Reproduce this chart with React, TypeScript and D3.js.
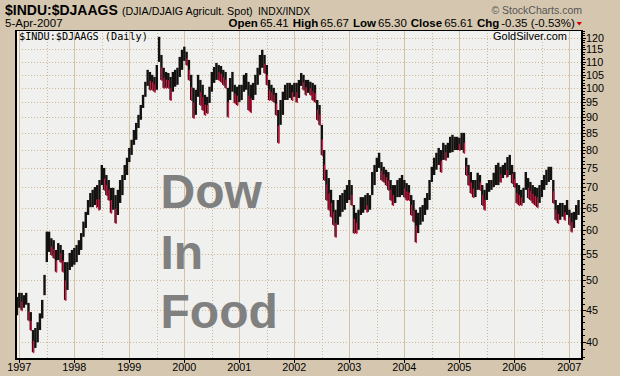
import React from 'react';
import * as d3 from 'd3';

// Half-month periods, first one is mid-December 1996
const firstPeriod = 1996 + 23 / 24;
const periodsPerYear = 24;

const hi = [
  47.1,
  47.8, 47.8, 47.4, 47.8, 46.1, 44.6, 41.8, 42.1, 43.0, 44.4, 46.6, 51.0,
  59.6, 59.6, 58.2, 57.8, 55.8, 57.2, 56.8, 55.8, 53.4, 53.4, 55.2, 55.8,
  56.2, 56.8, 57.8, 59.3, 61.8, 64.0, 66.8, 68.5, 69.3, 70.0, 70.5, 71.8,
  75.8, 75.0, 73.1, 71.8, 69.8, 69.8, 68.0, 69.3, 71.8, 73.1, 75.8, 77.8,
  80.6, 83.0, 86.0, 88.2, 90.8, 94.1, 97.6, 102.3, 106.8, 106.0, 104.9, 104.1,
  108.7, 120.3, 112.7, 107.6, 106.0, 105.6, 104.1, 106.0, 106.8, 107.6, 111.9, 114.8,
  116.1, 114.0, 110.7, 104.9, 100.1, 99.4, 104.9, 103.0, 101.2, 97.6, 96.9, 100.5,
  106.0, 107.9, 109.5, 108.7, 108.3, 106.8, 106.0, 100.1, 103.7, 106.0, 101.2, 100.5,
  101.2, 101.2, 104.9, 105.6, 102.3, 101.2, 101.9, 104.9, 107.6, 112.7, 114.8, 112.7,
  108.7, 103.0, 101.2, 100.1, 98.3, 92.4, 95.8, 98.7, 101.2, 101.9, 101.9, 101.2,
  101.9, 101.9, 103.0, 105.6, 104.9, 103.0, 103.0, 102.3, 101.9, 101.2, 95.8, 94.1,
  87.6, 80.0, 74.5, 72.3, 69.3, 66.8, 64.5, 66.8, 68.0, 68.5, 69.3, 70.5,
  71.8, 70.5, 65.6, 63.8, 64.5, 67.5, 67.5, 68.0, 68.5, 68.0, 73.9, 75.8,
  77.8, 79.2, 76.6, 75.3, 74.5, 73.9, 71.8, 70.5, 70.5, 71.8, 72.3, 73.1,
  71.8, 71.0, 70.5, 68.0, 66.8, 64.5, 63.8, 65.1, 65.6, 67.3, 68.5, 71.8,
  75.3, 77.8, 79.2, 80.6, 80.0, 82.1, 81.5, 82.1, 83.9, 84.5, 83.9, 83.9,
  83.6, 85.1, 85.1, 77.8, 75.8, 73.9, 71.8, 71.8, 73.7, 73.1, 70.5, 69.3,
  71.0, 71.8, 71.8, 73.7, 75.8, 76.4, 75.3, 75.8, 76.4, 78.0, 78.6, 75.8,
  73.9, 71.0, 70.5, 69.3, 69.8, 73.9, 72.3, 71.3, 70.5, 70.0, 69.8, 70.5,
  71.8, 73.1, 74.5, 75.3, 75.3, 71.8, 66.8, 65.6, 66.1, 66.1, 65.6, 66.8,
  64.5, 63.8, 64.0, 65.6, 66.8,
];

const lo = [
  44.1,
  45.3, 44.9, 45.3, 45.8, 43.3, 41.8, 38.6, 39.2, 40.0, 41.8, 43.6, 47.4,
  53.4, 55.4, 54.8, 54.2, 51.6, 53.8, 53.4, 51.6, 46.6, 48.3, 51.9, 52.5,
  52.9, 53.4, 54.8, 55.8, 58.5, 60.4, 63.3, 65.1, 65.1, 65.6, 65.1, 64.5,
  70.5, 69.3, 68.0, 66.8, 63.8, 64.5, 61.5, 63.3, 66.1, 68.0, 71.8, 73.1,
  76.6, 78.6, 81.5, 83.0, 86.6, 89.2, 93.1, 96.9, 100.8, 99.4, 99.4, 98.7,
  99.4, 109.9, 103.0, 100.1, 100.1, 100.1, 95.8, 98.7, 100.5, 101.2, 104.1, 106.8,
  110.3, 108.7, 103.0, 95.8, 89.8, 90.8, 96.9, 94.1, 92.4, 90.8, 91.4, 94.8,
  98.7, 101.9, 103.0, 103.0, 102.3, 101.2, 100.1, 90.2, 95.8, 98.7, 94.8, 94.1,
  95.1, 95.8, 98.7, 99.4, 92.4, 91.7, 95.8, 97.6, 101.2, 104.9, 107.6, 105.6,
  101.2, 95.8, 95.8, 95.1, 90.8, 82.1, 87.6, 90.8, 95.8, 95.8, 96.5, 95.8,
  96.9, 95.1, 96.5, 100.8, 99.4, 97.6, 98.3, 97.6, 95.8, 95.1, 89.2, 87.6,
  78.6, 71.8, 66.8, 64.5, 62.9, 61.1, 58.5, 61.1, 62.9, 64.0, 64.5, 66.1,
  66.8, 65.6, 59.3, 59.3, 60.0, 63.3, 63.8, 64.5, 64.0, 64.5, 68.0, 70.5,
  73.9, 75.0, 71.8, 71.3, 70.5, 69.3, 66.8, 65.6, 66.1, 67.5, 67.5, 68.0,
  67.5, 66.8, 66.8, 63.3, 61.8, 57.4, 59.3, 61.1, 61.8, 63.3, 64.5, 66.8,
  71.3, 73.1, 74.5, 75.8, 73.9, 77.2, 77.2, 77.8, 79.2, 79.4, 80.0, 80.0,
  80.0, 80.0, 79.2, 73.1, 70.5, 68.5, 67.5, 67.5, 69.3, 69.3, 65.6, 64.5,
  66.8, 68.8, 69.3, 70.0, 70.5, 70.5, 71.3, 72.3, 73.1, 72.6, 73.1, 71.0,
  70.0, 66.1, 65.6, 65.6, 66.1, 69.3, 67.3, 66.8, 66.1, 65.6, 65.1, 66.1,
  67.5, 69.3, 70.5, 71.3, 71.8, 66.1, 62.2, 61.5, 62.2, 62.9, 62.2, 63.3,
  61.1, 59.6, 60.4, 62.2, 63.3,
];

const yearTicks = d3.range(1997, 2008);
const yLabels = d3.range(40, 125, 5);
const quote = [
  { label: 'Open', value: '65.41' },
  { label: 'High', value: '65.67' },
  { label: 'Low', value: '65.30' },
  { label: 'Close', value: '65.61' },
  { label: 'Chg', value: '-0.35 (-0.53%)' },
];

const BG = '#D5C7AF';
const PLOT_BG = '#F0F0EE';
const GRID = '#D3C2A4';
const GRID_DOT = '#CDB894';
const RED = '#DC1443';
const BLACK = '#141210';
const FONT = '"Liberation Sans", Arial, sans-serif';

export default function App() {
  const left = 16, right = 582, top = 30, bottom = 359;
  const x = d3.scaleLinear().domain([1996.94, 2007.23]).range([left, right]);
  const y = d3.scaleLog().domain([37.66, 123.3]).range([bottom, top]);

  const bars = hi.map((h, k) => {
    const t = firstPeriod + k / periodsPerYear;
    const l = lo[k];
    const mid = (h + l) / 2;
    const prevMid = k > 0 ? (hi[k - 1] + lo[k - 1]) / 2 : mid;
    const prevLo = k > 0 ? lo[k - 1] : l;
    return { t, h, l, mid, down: mid < prevMid, newLow: l < prevLo };
  });
  const bw = 2.4;

  const minorTicks = d3.range(38, 124, 1);
  const midYears = d3.range(1997, 2007).map((yy) => yy + 0.5);

  return (
    <svg width={620} height={376} style={{ position: 'absolute', left: 0, top: 0, display: 'block' }}
      fontFamily={FONT}>
      <rect x={0} y={0} width={620} height={376} fill={BG} />
      {/* header */}
      <text x={5} y={15} fontSize={14} fontWeight="bold" fill="#000">$INDU:$DJAAGS</text>
      <text x={122} y={15} fontSize={10.7} fill="#000">(DJIA/DJAIG Agricult. Spot)</text>
      <text x={258} y={15} fontSize={10.3} fill="#000">INDX/INDX</text>
      <text x={582} y={14} fontSize={10.5} fill="#555" textAnchor="end">© StockCharts.com</text>
      <text x={5} y={27} fontSize={11.5} fill="#000">5-Apr-2007</text>
      <text x={228.5} y={27} fontSize={11.5} fill="#000">
        {quote.map((q, i) => (
          <React.Fragment key={q.label}>
            <tspan fontWeight="bold" dx={i === 0 ? 0 : 4}>{q.label}</tspan>
            <tspan dx={2}>{q.value}</tspan>
          </React.Fragment>
        ))}
      </text>
      <path d="M576.5,22 L582,22 L579.25,25.5 Z" fill="#D00000" />

      {/* plot area */}
      <rect x={left} y={top} width={right - left} height={bottom - top} fill={PLOT_BG} />
      {yLabels.map((v) => (
        <line key={'hg' + v} x1={left} x2={right} y1={Math.round(y(v)) + 0.5} y2={Math.round(y(v)) + 0.5}
          stroke={GRID_DOT} strokeDasharray="1 2" />
      ))}
      {midYears.map((t) => (
        <line key={'mg' + t} x1={Math.round(x(t)) + 0.5} x2={Math.round(x(t)) + 0.5} y1={top} y2={bottom}
          stroke={GRID_DOT} strokeDasharray="1 2" />
      ))}
      {yearTicks.map((t) => (
        <line key={'yg' + t} x1={Math.round(x(t)) + 0.5} x2={Math.round(x(t)) + 0.5} y1={top} y2={bottom}
          stroke={GRID} />
      ))}

      <text x={19} y={40} fontSize={10.2} fontFamily='"DejaVu Sans Mono", monospace' fill="#000">$INDU:$DJAAGS (Daily)</text>
      <text x={493} y={40} fontSize={11} fill="#000">GoldSilver.com</text>

      <g fill="#808080" fontSize={48} fontWeight="bold">
        <text x={160.5} y={208}>Dow</text>
        <text x={160.5} y={269}>In</text>
        <text x={160.5} y={328}>Food</text>
      </g>

      {/* bars */}
      {bars.map((b, k) => (
        <g key={'b' + k}>
          <rect x={x(b.t) - bw / 2} width={bw} y={y(b.h)} height={Math.max(1, y(b.l) - y(b.h))} fill={BLACK} />
          {b.down && (
            <rect x={x(b.t) - 0.2} width={1.4} y={y(b.mid)} height={Math.max(1, y(b.l) - y(b.mid) + 1)} fill={RED} />
          )}
          {!b.down && b.newLow && (
            <rect x={x(b.t) - bw / 2} width={1.2} y={y(b.l) - (y(b.l) - y(b.h)) * 0.35}
              height={(y(b.l) - y(b.h)) * 0.35 + 1} fill={RED} />
          )}
        </g>
      ))}

      {/* frame */}
      <line x1={left} x2={right} y1={top + 0.5} y2={top + 0.5} stroke="#000" />
      <line x1={left} x2={left} y1={top} y2={bottom + 1} stroke="#000" strokeWidth={2} />
      <line x1={right} x2={right} y1={top} y2={bottom + 1} stroke="#000" strokeWidth={2} />
      <line x1={left - 1} x2={right + 1} y1={bottom} y2={bottom} stroke="#000" strokeWidth={2} />

      {/* y axis */}
      {minorTicks.map((v) => (
        <line key={'mt' + v} x1={right} x2={right + 3} y1={Math.round(y(v)) + 0.5} y2={Math.round(y(v)) + 0.5} stroke="#000" />
      ))}
      {yLabels.map((v) => (
        <g key={'yl' + v}>
          <line x1={right} x2={right + 4} y1={Math.round(y(v)) + 0.5} y2={Math.round(y(v)) + 0.5} stroke="#000" />
          <text x={586} y={y(v) + 4} fontSize={10.8} fill="#000">{v}</text>
        </g>
      ))}
      {/* x axis */}
      {yearTicks.map((t) => (
        <g key={'xl' + t}>
          <line x1={Math.round(x(t)) + 0.5} x2={Math.round(x(t)) + 0.5} y1={bottom} y2={bottom + 4} stroke="#000" />
          <text x={x(t)} y={371} fontSize={10.8} fill="#000" textAnchor="middle">{t}</text>
        </g>
      ))}
    </svg>
  );
}
